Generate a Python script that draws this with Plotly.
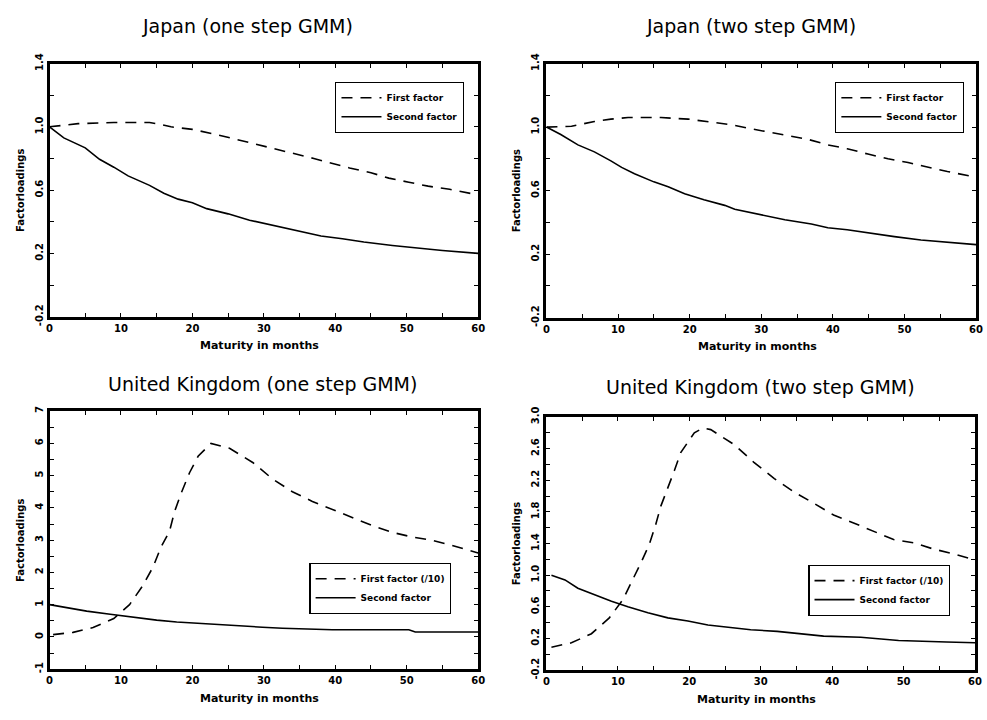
import plotly.graph_objects as go

# ---------------- data ----------------
jp1_first_x = [0, 4, 9, 14, 15, 17, 20, 23, 28, 31, 34, 37, 39, 42, 45, 47.5, 50.3, 53, 56, 60]
jp1_first_y = [1.0, 1.02, 1.027, 1.027, 1.02, 1.0, 0.984, 0.955, 0.90, 0.867, 0.836, 0.80, 0.775, 0.74, 0.71, 0.676, 0.65, 0.625, 0.605, 0.57]
jp1_second_x = [0, 2, 5, 7, 9, 11, 14, 16, 18, 20, 22, 25, 28, 32, 35, 38, 41, 44, 48, 52, 55, 60]
jp1_second_y = [1.0, 0.93, 0.867, 0.795, 0.745, 0.69, 0.63, 0.58, 0.543, 0.52, 0.483, 0.45, 0.41, 0.37, 0.34, 0.31, 0.293, 0.272, 0.25, 0.23, 0.218, 0.2]

jp2_first_x = [0, 3.5, 6.7, 9, 11.4, 16, 19.8, 22.6, 25.8, 28, 31, 33.7, 36.5, 39.3, 42, 44.9, 47.7, 50.5, 53, 56, 60]
jp2_first_y = [1.0, 1.005, 1.035, 1.05, 1.06, 1.06, 1.05, 1.035, 1.015, 0.994, 0.97, 0.945, 0.923, 0.888, 0.864, 0.83, 0.80, 0.777, 0.752, 0.72, 0.685]
jp2_second_x = [0, 2, 4.4, 6.7, 9, 10.5, 12.3, 15, 17, 19.3, 22, 24.9, 26.3, 30, 33.3, 37, 39.3, 42, 45.3, 48.6, 52.3, 56.5, 58.8, 60]
jp2_second_y = [1.0, 0.953, 0.888, 0.844, 0.787, 0.746, 0.706, 0.655, 0.624, 0.58, 0.543, 0.507, 0.482, 0.446, 0.417, 0.39, 0.366, 0.354, 0.33, 0.31, 0.289, 0.273, 0.26, 0.26]

uk1_first_x = [0.5, 3.3, 6.1, 9, 11.2, 13, 14.5, 15.6, 16.8, 17.5, 18.4, 19.6, 20.8, 22.6, 25.2, 28.5, 31.2, 34, 36.8, 39.6, 42.4, 45.2, 48, 50.7, 53.5, 56.3, 60]
uk1_first_y = [0.07, 0.14, 0.29, 0.57, 1.0, 1.57, 2.17, 2.78, 3.28, 3.88, 4.44, 5.09, 5.6, 6.0, 5.85, 5.4, 4.9, 4.5, 4.2, 3.95, 3.7, 3.45, 3.24, 3.1, 3.0, 2.84, 2.6]
uk1_second_x = [0, 2.4, 5.2, 8.5, 11.7, 15, 17.8, 22, 25.6, 29.8, 32.6, 37.3, 39.6, 50.3, 51.2, 60]
uk1_second_y = [1.0, 0.9, 0.8, 0.7, 0.6, 0.52, 0.46, 0.4, 0.34, 0.3, 0.27, 0.24, 0.22, 0.22, 0.15, 0.15]

uk2_first_x = [0.7, 3.5, 6.3, 8.8, 10.7, 12.1, 13.3, 14.4, 15.3, 16, 17, 17.9, 18.8, 20.7, 21.9, 23, 26.3, 29, 31.9, 34.7, 37.4, 40.2, 43, 45.8, 48.6, 51.4, 54.2, 57, 60]
uk2_first_y = [0.09, 0.145, 0.26, 0.46, 0.69, 0.94, 1.17, 1.39, 1.64, 1.87, 2.1, 2.32, 2.55, 2.8, 2.86, 2.84, 2.65, 2.43, 2.22, 2.05, 1.91, 1.76, 1.66, 1.56, 1.45, 1.41, 1.33, 1.27, 1.19]
uk2_second_x = [0.7, 2.6, 4.4, 6.7, 9.1, 11.4, 14.2, 17, 19.8, 22.6, 25.3, 28.6, 32.3, 35.6, 38.8, 44, 46.5, 49.3, 56, 60]
uk2_second_y = [1.0, 0.94, 0.835, 0.75, 0.67, 0.6, 0.525, 0.46, 0.42, 0.37, 0.34, 0.31, 0.29, 0.26, 0.23, 0.215, 0.195, 0.175, 0.155, 0.145]

panel_titles = ["Japan (one step GMM)", "Japan (two step GMM)",
                "United Kingdom (one step GMM)", "United Kingdom (two step GMM)"]
first_names = ["First factor", "First factor", "First factor (/10)", "First factor (/10)"]
second_name = "Second factor"
x_title = "Maturity in months"
y_title = "Factorloadings"

x_ticks = list(range(0, 61, 5))
x_labels = [str(v) if v % 10 == 0 else "" for v in x_ticks]

jp_yticks = [-0.2, 0.0, 0.2, 0.4, 0.6, 0.8, 1.0, 1.2, 1.4]
jp_ylabels = ["-0.2", "", "0.2", "", "0.6", "", "1.0", "", "1.4"]
uk1_yticks = [-1, -0.5, 0, 0.5, 1, 1.5, 2, 2.5, 3, 3.5, 4, 4.5, 5, 5.5, 6, 6.5, 7]
uk1_ylabels = ["-1", "", "0", "", "1", "", "2", "", "3", "", "4", "", "5", "", "6", "", "7"]
uk2_yticks = [-0.2, 0.0, 0.2, 0.4, 0.6, 0.8, 1.0, 1.2, 1.4, 1.6, 1.8, 2.0, 2.2, 2.4, 2.6, 2.8, 3.0]
uk2_ylabels = ["-0.2", "", "0.2", "", "0.6", "", "1.0", "", "1.4", "", "1.8", "", "2.2", "", "2.6", "", "3.0"]

# ---------------- layout geometry (pixels) ----------------
W, H = 987, 720
panels_px = [  # x0, x1, y0(top), y1(bottom)
    (47, 480, 55, 315),
    (549, 983, 55, 316),
    (47, 480, 412, 677),
    (549, 982, 418, 678),
]
yranges = [[-0.2, 1.4], [-0.2, 1.4], [-1, 7], [-0.2, 3.0]]
yticks = [(jp_yticks, jp_ylabels), (jp_yticks, jp_ylabels), (uk1_yticks, uk1_ylabels), (uk2_yticks, uk2_ylabels)]
legend_px = [(466, 74), (971, 74), (453, 568), (957, 570)]  # right, top
title_px = [(247, 16), (756, 16), (262, 384), (765, 387)]

data = [
    (jp1_first_x, jp1_first_y, jp1_second_x, jp1_second_y),
    (jp2_first_x, jp2_first_y, jp2_second_x, jp2_second_y),
    (uk1_first_x, uk1_first_y, uk1_second_x, uk1_second_y),
    (uk2_first_x, uk2_first_y, uk2_second_x, uk2_second_y),
]

FONT = "DejaVu Sans"
fig = go.Figure()
layout = dict(
    width=W, height=H, margin=dict(l=0, r=0, t=0, b=0),
    paper_bgcolor="white", plot_bgcolor="white", showlegend=True,
    annotations=[],
)

for i in range(4):
    k = "" if i == 0 else str(i + 1)
    fx, fy, sx, sy = data[i]
    lg = "legend" if i == 0 else "legend" + str(i + 1)
    fig.add_trace(go.Scatter(x=fx, y=fy, mode="lines", name=first_names[i],
                             line=dict(color="black", width=1.6, dash="11px,8px"),
                             xaxis="x" + k, yaxis="y" + k, legend=lg))
    fig.add_trace(go.Scatter(x=sx, y=sy, mode="lines", name=second_name,
                             line=dict(color="black", width=1.6),
                             xaxis="x" + k, yaxis="y" + k, legend=lg))
    x0, x1, y0, y1 = panels_px[i]
    axis_common = dict(showline=True, linecolor="black", linewidth=3, mirror="ticks",
                       ticks="inside", ticklen=4, tickwidth=1.3, tickcolor="black",
                       showgrid=False, zeroline=False,
                       tickfont=dict(family=FONT, size=10, color="black", weight="bold"))
    layout["xaxis" + k] = dict(axis_common, domain=[x0 / W, x1 / W], range=[0, 60],
                               tickmode="array", tickvals=x_ticks, ticktext=x_labels,
                               anchor="y" + k, tickangle=0)
    tv, tt = yticks[i]
    layout["yaxis" + k] = dict(axis_common, domain=[1 - y1 / H, 1 - y0 / H], range=yranges[i],
                               tickmode="array", tickvals=tv, ticktext=tt,
                               anchor="x" + k, tickangle=-90)
    lx, ly = legend_px[i]
    layout[lg] = dict(x=lx / W, y=1 - ly / H, xanchor="right", yanchor="top",
                      xref="paper", yref="paper",
                      bgcolor="white", bordercolor="black", borderwidth=1.2,
                      font=dict(family=FONT, size=9, color="black", weight="bold"),
                      itemwidth=40, tracegroupgap=0)
    tx, ty = title_px[i]
    layout["annotations"].append(dict(text=panel_titles[i], x=tx / W, y=1 - ty / H,
                                      xref="paper", yref="paper", showarrow=False,
                                      xanchor="center", yanchor="middle",
                                      font=dict(family=FONT, size=19, color="black")))
    layout["annotations"].append(dict(text=x_title, x=(x0 + x1) / 2 / W - 0.004, y=1 - (y1 + 30) / H,
                                      xref="paper", yref="paper", showarrow=False,
                                      xanchor="center", yanchor="middle",
                                      font=dict(family=FONT, size=11, color="black", weight="bold")))
    layout["annotations"].append(dict(text=y_title, x=(x0 - 30) / W, y=1 - (y0 + y1) / 2 / H,
                                      xref="paper", yref="paper", showarrow=False, textangle=-90,
                                      xanchor="center", yanchor="middle",
                                      font=dict(family=FONT, size=10, color="black", weight="bold")))

fig.update_layout(**layout)
fig.write_html("out.html")
